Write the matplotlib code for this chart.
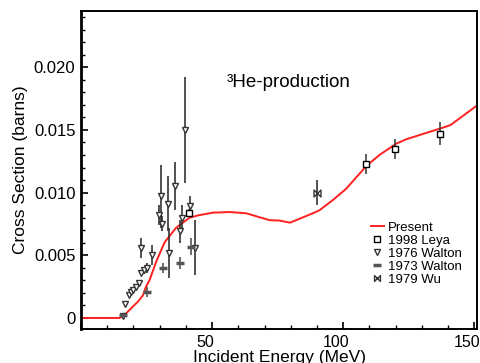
import matplotlib
matplotlib.use("Agg")
import matplotlib.pyplot as plt
import matplotlib.transforms as mtransforms
from matplotlib.path import Path
from matplotlib.ticker import MultipleLocator, FuncFormatter

plt.rcParams["font.family"] = ["Liberation Sans", "DejaVu Sans"]

# model calculation ("Present")
present_e = [0, 14.7, 16.6, 20.4, 21.7, 23.6, 24.8, 26.1, 28.7, 31.8, 32.5, 36.3,
             41.4, 45.0, 50.3, 56.6, 63.0, 71.9, 75.7, 79.7, 88.4, 91.0, 96.0,
             101.1, 108.7, 113.8, 120.2, 124.0, 139.2, 141.0, 152.0]
present_xs = [0, 0, 0.00024, 0.00104, 0.0013, 0.0018, 0.0025, 0.0030, 0.0045,
              0.0060, 0.0062, 0.0072, 0.0080, 0.0082, 0.0084, 0.00845, 0.00835,
              0.0078, 0.00777, 0.0076, 0.00835, 0.0086, 0.0094, 0.0103, 0.0121,
              0.0130, 0.0139, 0.01425, 0.01526, 0.0154, 0.0171]

# 1998 Leya
leya_e = [41.3, 108.7, 119.9, 137.0]
leya_xs = [0.0084, 0.0123, 0.0135, 0.0147]
leya_err = [0.0003, 0.0008, 0.0008, 0.0009]

# 1976 Walton
w76_e = [16.0, 16.9, 18.2, 19.1, 20.0, 21.0, 22.0, 22.8, 22.7, 23.9, 25.2, 26.9,
         29.7, 30.6, 31.0, 33.1, 33.5, 35.7, 37.6, 38.5, 39.5, 41.6, 43.5]
w76_xs = [0.00015, 0.0011, 0.0018, 0.0021, 0.0022, 0.0025, 0.0028, 0.0036,
          0.0056, 0.0038, 0.0040, 0.0050, 0.0082, 0.0097, 0.0075, 0.0091,
          0.0052, 0.0105, 0.0069, 0.0080, 0.0150, 0.0089, 0.0056]
w76_err = [0.0001, 0, 0, 0, 0, 0, 0.0002, 0.0002, 0.0008, 0.0003, 0.0004, 0.0008,
           0.0008, 0.0025, 0.0006, 0.0022, 0.0020, 0.0019, 0.0009, 0.0010,
           0.0042, 0.0008, 0.0022]

# 1973 Walton
w73_e = [16.0, 25.2, 31.1, 37.8, 42.0]
w73_xs = [0.0002, 0.0021, 0.0040, 0.0044, 0.0057]
w73_err = [0.0001, 0.0004, 0.0004, 0.0005, 0.0007]

# 1979 Wu
wu_e = [89.9]
wu_xs = [0.0100]
wu_err = [0.0010]

bowtie = Path([(-1, -1), (-1, 1), (1, -1), (1, 1), (-1, -1)],
              [Path.MOVETO, Path.LINETO, Path.LINETO, Path.LINETO, Path.CLOSEPOLY])

fig = plt.figure(figsize=(4.81, 3.63), dpi=100)
ax = fig.add_axes([0.1684, 0.0937, 0.8233, 0.876])

h_present, = ax.plot(present_e, present_xs, color="#ff2020", lw=1.4, zorder=2)

h_leya = ax.errorbar(leya_e, leya_xs, yerr=leya_err, fmt="s", ms=5, mfc="white",
                     mec="black", mew=1.0, ecolor="#333333", elinewidth=1.1,
                     capsize=0, zorder=3)
h_w76 = ax.errorbar(w76_e, w76_xs, yerr=w76_err, fmt="v", ms=5, mfc="white",
                    mec="#333333", mew=1.0, ecolor="#222222", elinewidth=1.1,
                    capsize=0, zorder=3)
h_w73 = ax.errorbar(w73_e, w73_xs, yerr=w73_err, fmt="_", ms=6, mec="#555555",
                    mew=2.5, ecolor="#444444", elinewidth=1.1, capsize=0, zorder=3)
ax.errorbar(wu_e, wu_xs, yerr=wu_err, fmt="none", ecolor="#222222",
            elinewidth=1.1, capsize=0, zorder=3)
h_wu, = ax.plot(wu_e, wu_xs, ls="none", marker=bowtie, ms=5, mfc="white",
                mec="#333333", mew=1.0, zorder=4)

ax.set_xlim(0, 151)
ax.set_ylim(-0.000877, 0.02448)

ax.xaxis.set_major_locator(MultipleLocator(50))
ax.xaxis.set_minor_locator(MultipleLocator(10))
ax.yaxis.set_major_locator(MultipleLocator(0.005))
ax.yaxis.set_minor_locator(MultipleLocator(0.001))
ax.xaxis.set_major_formatter(FuncFormatter(lambda v, p: "" if v == 0 else f"{v:.0f}"))
ax.yaxis.set_major_formatter(FuncFormatter(lambda v, p: "0" if abs(v) < 1e-9 else f"{v:.3f}"))

ax.tick_params(which="both", direction="in", top=False, right=False,
               labelsize=12, colors="black")
ax.tick_params(which="major", length=5, width=1.2)
ax.tick_params(which="minor", length=3, width=1.0)
ax.tick_params(axis="x", labelsize=11.5, pad=4)
ax.tick_params(axis="y", pad=4)
shift = mtransforms.ScaledTranslation(-0.07, 0, fig.dpi_scale_trans)
for lbl in ax.get_xticklabels():
    lbl.set_transform(lbl.get_transform() + shift)

for side in ["top", "right", "bottom"]:
    ax.spines[side].set_linewidth(1.4)
ax.spines["left"].set_linewidth(2.0)

ax.set_xlabel("Incident Energy (MeV)", fontsize=12.5, labelpad=0)
ax.set_ylabel("Cross Section (barns)", fontsize=12.5, labelpad=4)

ax.text(0.367, 0.775, "\u00b3He-production", transform=ax.transAxes,
        fontsize=13.5, ha="left", va="center")

# legend shows bare markers, no error bars
ax.legend([h_present, h_leya[0], h_w76[0], h_w73[0], h_wu],
          ["Present", "1998 Leya", "1976 Walton", "1973 Walton", "1979 Wu"],
          loc="lower right", bbox_to_anchor=(0.975, 0.12), frameon=False,
          fontsize=9.5, handlelength=1.0, handletextpad=0.3,
          labelspacing=0.05, borderaxespad=0, markerscale=0.85)

fig.savefig("out.png", dpi=100)
